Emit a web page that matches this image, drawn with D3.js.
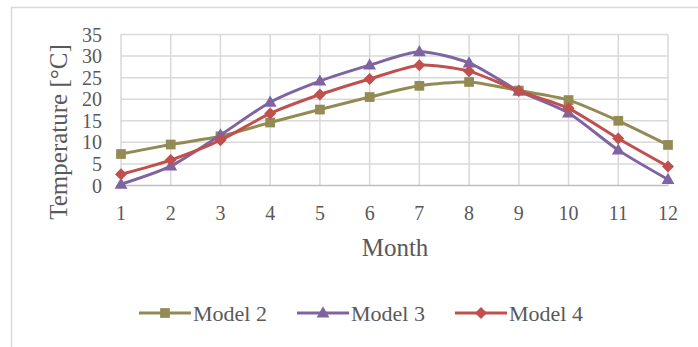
<!DOCTYPE html>
<html><head><meta charset="utf-8">
<script src="https://cdn.jsdelivr.net/npm/d3@7"></script>
<style>html,body{margin:0;padding:0;background:#fff;}svg{display:block;}</style>
</head><body>
<svg id="c" width="698" height="347"></svg>
<script>
const months = [1,2,3,4,5,6,7,8,9,10,11,12];
const model2 = [7.3, 9.5, 11.4, 14.6, 17.6, 20.5, 23.1, 24.0, 22.0, 19.8, 15.0, 9.4];
const model3 = [0.3, 4.5, 11.7, 19.3, 24.2, 27.9, 31.0, 28.4, 21.9, 16.8, 8.2, 1.4];
const model4 = [2.6, 5.9, 10.5, 16.7, 21.1, 24.7, 27.9, 26.5, 21.9, 17.9, 10.9, 4.4];
const yTicks = [0,5,10,15,20,25,30,35];
const seriesNames = ["Model 2","Model 3","Model 4"];
const seriesColors = ["#948A54","#8064A2","#C0504D"];

const diamond = { draw(ctx, size){ const r = Math.sqrt(size/2); ctx.moveTo(0,-r); ctx.lineTo(r,0); ctx.lineTo(0,r); ctx.lineTo(-r,0); ctx.closePath(); } };
const triangle = { draw(ctx, size){ const s = Math.sqrt(size*4/Math.sqrt(3)); const h = s*Math.sqrt(3)/2; ctx.moveTo(0,-h*0.6); ctx.lineTo(s/2,h*0.4); ctx.lineTo(-s/2,h*0.4); ctx.closePath(); } };
const seriesSymbols = [d3.symbolSquare, triangle, diamond];
const symSizes = [95, 72, 72];
const seriesData = [model2, model3, model4];

const svg = d3.select("#c");
const font = "'Liberation Serif','Times New Roman',serif";
const txt = "#595959";

// outer border
svg.append("rect").attr("x",11.5).attr("y",7.5).attr("width",800).attr("height",500)
  .attr("fill","none").attr("stroke","#D9D9D9").attr("stroke-width",1.5);

const x = d3.scaleLinear().domain([1,12]).range([121,668]);
const y = d3.scaleLinear().domain([0,35]).range([185.5,34.5]);

// grid
svg.append("g").selectAll("line").data(yTicks.filter(d=>d>0)).join("line")
  .attr("x1",x(1)).attr("x2",x(12)).attr("y1",d=>y(d)).attr("y2",d=>y(d))
  .attr("stroke","#D9D9D9").attr("stroke-width",1.5);
svg.append("g").selectAll("line").data(months).join("line")
  .attr("x1",d=>x(d)).attr("x2",d=>x(d)).attr("y1",y(0)).attr("y2",y(35))
  .attr("stroke","#D9D9D9").attr("stroke-width",1.5);
svg.append("line").attr("x1",x(1)).attr("x2",x(12)).attr("y1",y(0)).attr("y2",y(0))
  .attr("stroke","#BFBFBF").attr("stroke-width",1.5);

// y ticks
svg.append("g").selectAll("text").data(yTicks).join("text")
  .attr("x",102).attr("y",d=>y(d)).attr("dy","0.35em").attr("text-anchor","end")
  .attr("font-family",font).attr("font-size",20).attr("fill",txt).text(d=>d);
// x ticks
svg.append("g").selectAll("text").data(months).join("text")
  .attr("x",d=>x(d)).attr("y",213).attr("dy","0.35em").attr("text-anchor","middle")
  .attr("font-family",font).attr("font-size",20).attr("fill",txt).text(d=>d);

// axis titles
svg.append("text").attr("x",395).attr("y",247).attr("dy","0.35em").attr("text-anchor","middle")
  .attr("font-family",font).attr("font-size",25).attr("fill",txt).text("Month");
svg.append("text").attr("transform","translate(58,132) rotate(-90)").attr("dy","0.35em")
  .attr("text-anchor","middle").attr("font-family",font).attr("font-size",25).attr("fill",txt)
  .text("Temperature [°C]");

// series
const line = d3.line().x((d,i)=>x(months[i])).y(d=>y(d)).curve(d3.curveCardinal.tension(0.3));
seriesData.forEach((data,k)=>{
  const g = svg.append("g");
  g.append("path").attr("d",line(data)).attr("fill","none")
    .attr("stroke",seriesColors[k]).attr("stroke-width",3).attr("stroke-linejoin","round");
  g.selectAll("path.m").data(data).join("path").attr("class","m")
    .attr("transform",(d,i)=>`translate(${x(months[i])},${y(d)})`)
    .attr("d",d3.symbol().type(seriesSymbols[k]).size(symSizes[k]))
    .attr("fill",seriesColors[k]);
});

// legend
const legX = [139, 297, 455];
const lg = svg.append("g");
seriesNames.forEach((n,k)=>{
  lg.append("line").attr("x1",legX[k]).attr("x2",legX[k]+52).attr("y1",313).attr("y2",313)
    .attr("stroke",seriesColors[k]).attr("stroke-width",3);
  lg.append("path").attr("transform",`translate(${legX[k]+26},313)`)
    .attr("d",d3.symbol().type(seriesSymbols[k]).size(symSizes[k])).attr("fill",seriesColors[k]);
  lg.append("text").attr("x",legX[k]+54).attr("y",313).attr("dy","0.35em")
    .attr("font-family",font).attr("font-size",22).attr("fill",txt).text(n);
});
</script>
</body></html>
